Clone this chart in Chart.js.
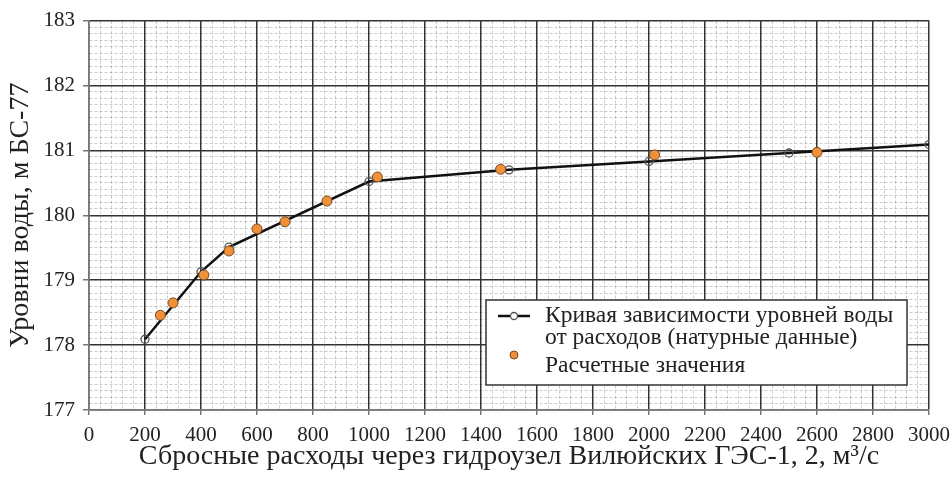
<!DOCTYPE html>
<html>
<head>
<meta charset="utf-8">
<script src="https://cdn.jsdelivr.net/npm/chart.js@4"></script>
<style>
  html, body { margin: 0; padding: 0; background: #fff; }
  #box { width: 950px; height: 477px; }
</style>
</head>
<body>
<div id="box"><canvas id="graf" width="950" height="477"></canvas></div>
<script>
// натурные данные (кривая)
var natQ = [200, 400, 500, 1000, 1500, 2000, 2500, 3000];
var natH = [178.09, 179.13, 179.51, 180.52, 180.70, 180.83, 180.96, 181.09];

// расчетные значения
var calcQ = [255, 300, 410, 500, 600, 700, 850, 1030, 1470, 2020, 2600];
var calcH = [178.46, 178.65, 179.08, 179.45, 179.79, 179.90, 180.22, 180.59, 180.71, 180.93, 180.97];

var xMajor = 200, xMinor = 40, xMin = 0, xMax = 3000;
var yMin = 177, yMax = 183, yMinor = 0.1;

var legendLabels = [
    ['Кривая зависимости уровней воды', 'от расходов (натурные данные)'],
    ['Расчетные значения']
];

var xTitle = 'Сбросные расходы через гидроузел Вилюйских ГЭС-1, 2, м³/с';
var yTitle = 'Уровни воды, м БС-77';

var serif = '"Liberation Serif", "DejaVu Serif", serif';

function isMajorX(v) { return Math.abs(v / xMajor - Math.round(v / xMajor)) < 1e-6; }
function isMajorY(v) { return Math.abs(v - Math.round(v)) < 1e-6; }

// мелкая сетка полупрозрачная, чтобы не перекрывать основные линии
var minorColor = 'rgba(0,0,0,0.2)';
var majorColor = '#333';

// легенда в рамке, рисуется поверх графика
var legendBox = {
    id: 'legendBox',
    afterDraw: function (chart) {
        var ctx = chart.ctx;
        var a = chart.chartArea;
        var w = 421, h = 85;
        var x = a.right - 22 - w;
        var y = a.bottom - 25 - h;
        ctx.save();
        ctx.fillStyle = '#fff';
        ctx.fillRect(x, y, w, h);
        ctx.strokeStyle = '#333';
        ctx.lineWidth = 1.5;
        ctx.strokeRect(x, y, w, h);

        var ds0 = chart.data.datasets[0];
        var ds1 = chart.data.datasets[1];
        // линия с кружком
        ctx.strokeStyle = ds0.borderColor;
        ctx.lineWidth = 2.5;
        ctx.beginPath();
        ctx.moveTo(x + 12, y + 16);
        ctx.lineTo(x + 44, y + 16);
        ctx.stroke();
        ctx.beginPath();
        ctx.arc(x + 28, y + 16, 3.5, 0, Math.PI * 2);
        ctx.fillStyle = '#fff';
        ctx.fill();
        ctx.strokeStyle = ds0.pointBorderColor;
        ctx.lineWidth = 1.3;
        ctx.stroke();
        // оранжевая точка
        ctx.beginPath();
        ctx.arc(x + 28, y + 55, 4, 0, Math.PI * 2);
        ctx.fillStyle = ds1.backgroundColor;
        ctx.fill();
        ctx.strokeStyle = ds1.borderColor;
        ctx.lineWidth = 1;
        ctx.stroke();

        ctx.fillStyle = '#222';
        ctx.font = '23.5px ' + serif;
        ctx.textBaseline = 'middle';
        ctx.fillText(legendLabels[0][0], x + 59, y + 16);
        ctx.fillText(legendLabels[0][1], x + 59, y + 38);
        ctx.fillText(legendLabels[1][0], x + 59, y + 66);
        ctx.restore();
    }
};

const ctx = document.getElementById('graf');
new Chart(ctx, {
    type: 'scatter',
    data: {
        datasets: [{
            label: legendLabels[0].join(' '),
            data: natQ.map(function (q, i) { return { x: q, y: natH[i] }; }),
            showLine: true,
            borderColor: '#111',
            borderWidth: 2.5,
            tension: 0,
            pointRadius: 4,
            pointBackgroundColor: 'rgba(255,255,255,0)',
            pointBorderColor: '#555',
            pointBorderWidth: 1.3,
            order: 2
        }, {
            label: legendLabels[1][0],
            data: calcQ.map(function (q, i) { return { x: q, y: calcH[i] }; }),
            showLine: false,
            backgroundColor: '#f0913a',
            borderColor: '#7a4a22',
            borderWidth: 1,
            pointRadius: 5,
            order: 1
        }]
    },
    options: {
        responsive: false,
        animation: false,
        layout: { padding: { top: 20, right: 21, left: 0, bottom: 0 } },
        plugins: {
            legend: { display: false },
            tooltip: { enabled: false }
        },
        scales: {
            x: {
                type: 'linear',
                min: xMin,
                max: xMax,
                afterFit: function (s) {
                    s.height = 67;
                    s.paddingLeft = 0;
                    s.paddingRight = 0;
                },
                ticks: {
                    stepSize: xMinor,
                    autoSkip: false,
                    maxRotation: 0,
                    padding: 8,
                    color: '#222',
                    font: { family: serif, size: 21 },
                    callback: function (v) { return isMajorX(v) ? v : ''; }
                },
                grid: {
                    color: function (c) { return isMajorX(c.tick.value) ? majorColor : minorColor; },
                    lineWidth: function (c) { return isMajorX(c.tick.value) ? 1.5 : 1; },
                    tickColor: function (c) { return isMajorX(c.tick.value) ? '#777' : 'rgba(0,0,0,0)'; },
                    tickLength: 5
                },
                border: {
                    color: '#777',
                    width: 1.5,
                    dash: function (c) { return (c.tick && !isMajorX(c.tick.value)) ? [3, 2] : []; }
                },
                title: {
                    display: true,
                    text: xTitle,
                    color: '#222',
                    font: { family: serif, size: 28 },
                    padding: { top: 0 }
                }
            },
            y: {
                type: 'linear',
                min: yMin,
                max: yMax,
                afterFit: function (s) { s.width = 89; },
                ticks: {
                    stepSize: yMinor,
                    autoSkip: false,
                    padding: 8,
                    color: '#222',
                    font: { family: serif, size: 21 },
                    callback: function (v) { return isMajorY(v) ? Math.round(v) : ''; }
                },
                grid: {
                    color: function (c) { return isMajorY(c.tick.value) ? majorColor : minorColor; },
                    lineWidth: function (c) { return isMajorY(c.tick.value) ? 1.5 : 1; },
                    tickColor: function (c) { return isMajorY(c.tick.value) ? '#777' : 'rgba(0,0,0,0)'; },
                    tickLength: 6
                },
                border: {
                    color: '#777',
                    width: 1.5,
                    dash: function (c) { return (c.tick && !isMajorY(c.tick.value)) ? [3, 2] : []; }
                },
                title: {
                    display: true,
                    text: yTitle,
                    color: '#222',
                    font: { family: serif, size: 28 },
                    padding: { bottom: 0 }
                }
            }
        }
    },
    plugins: [legendBox]
});
</script>
</body>
</html>
